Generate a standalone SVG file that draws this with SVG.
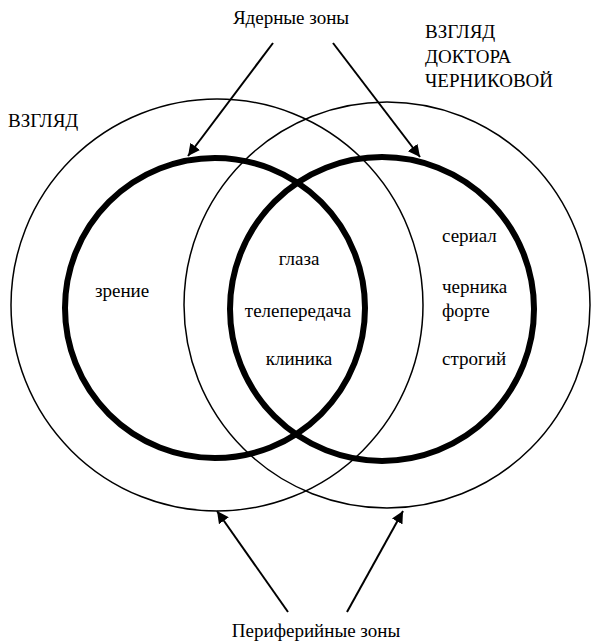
<svg xmlns="http://www.w3.org/2000/svg" width="595" height="643" viewBox="0 0 595 643">
<defs>
<marker id="ah" viewBox="0 0 10 10" refX="10" refY="5" markerWidth="6" markerHeight="6" orient="auto" markerUnits="strokeWidth">
<path d="M0,0 L10,5 L0,10 z" fill="#000"/>
</marker>
</defs>
<rect width="595" height="643" fill="#fff"/>
<g id="outer-left"><circle fill="none" stroke="#000" stroke-width="1.5" cx="217" cy="305" r="206"/></g>
<g id="outer-right"><circle fill="none" stroke="#000" stroke-width="1.5" cx="387" cy="305" r="203"/></g>
<g id="core-left"><circle fill="none" stroke="#000" stroke-width="6" cx="215" cy="308" r="150"/></g>
<g id="core-right"><circle fill="none" stroke="#000" stroke-width="6" cx="382" cy="309" r="152"/></g>
<g id="connectors" stroke="#000" stroke-width="2" fill="none">
<line marker-end="url(#ah)" x1="273" y1="43" x2="188" y2="156"/>
<line marker-end="url(#ah)" x1="333" y1="43" x2="420" y2="157"/>
<line marker-end="url(#ah)" x1="288" y1="612" x2="217" y2="511"/>
<line marker-end="url(#ah)" x1="347" y1="612" x2="403" y2="511"/>
</g>
<g id="labels">
<text font-family="Liberation Serif" font-size="19" x="291" y="24" text-anchor="middle">Ядерные зоны</text>
<text font-family="Liberation Serif" font-size="19" x="425" y="38">ВЗГЛЯД</text>
<text font-family="Liberation Serif" font-size="19" x="425" y="63">ДОКТОРА</text>
<text font-family="Liberation Serif" font-size="19" x="425" y="87">ЧЕРНИКОВОЙ</text>
<text font-family="Liberation Serif" font-size="19" x="8" y="127">ВЗГЛЯД</text>
<text font-family="Liberation Serif" font-size="19" x="316" y="637" text-anchor="middle">Периферийные зоны</text>
</g>
<g id="zone-left"><text font-family="Liberation Serif" font-size="19" x="95" y="297">зрение</text></g>
<g id="zone-center">
<text font-family="Liberation Serif" font-size="19" x="299" y="265" text-anchor="middle">глаза</text>
<text font-family="Liberation Serif" font-size="19" x="298" y="317" text-anchor="middle">телепередача</text>
<text font-family="Liberation Serif" font-size="19" x="299" y="365" text-anchor="middle">клиника</text>
</g>
<g id="zone-right">
<text font-family="Liberation Serif" font-size="19" x="442" y="242">сериал</text>
<text font-family="Liberation Serif" font-size="19" x="442" y="293">черника</text>
<text font-family="Liberation Serif" font-size="19" x="442" y="317">форте</text>
<text font-family="Liberation Serif" font-size="19" x="442" y="365">строгий</text>
</g>
</svg>
